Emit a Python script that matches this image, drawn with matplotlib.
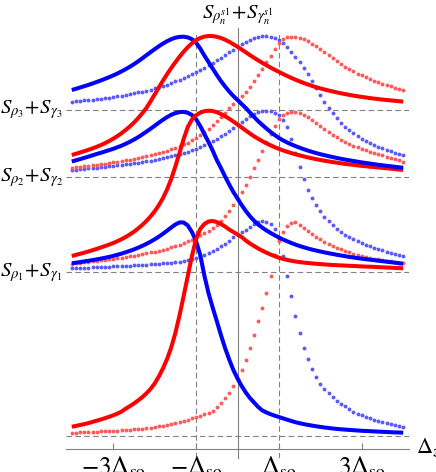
import numpy as np
import matplotlib.pyplot as plt

plt.rcParams['mathtext.fontset'] = 'stix'
plt.rcParams['font.family'] = ['Liberation Serif', 'DejaVu Serif']

# detuning grid, in units of Delta_so
dz = np.linspace(-4.0, 4.0, 81)

# offsets of the stacked spectra (dashed reference lines)
levels = [0.0, 163.7, 258.7, 326.0]
level_labels = [r'$S_{\rho_1}\!+\!S_{\gamma_1}$',
                r'$S_{\rho_2}\!+\!S_{\gamma_2}$',
                r'$S_{\rho_3}\!+\!S_{\gamma_3}$']

# solid blue curves (peak near -1.4); the dotted red ones are their mirror images
blue_1 = [172.7, 173.3, 173.9, 174.6, 175.2, 175.9, 176.6, 177.4, 178.2, 179.1,
          180.1, 181.2, 182.4, 183.7, 185.1, 186.6, 188.3, 190.1, 192.1, 194.3,
          196.7, 199.3, 202.2, 205.3, 208.5, 211.5, 213.6, 213.5, 210.5, 204.0,
          195.0, 181.0, 160.5, 143.0, 128.5, 115.0, 101.0, 88.0, 76.5, 66.0,
          57.5, 50.0, 43.5, 38.0, 33.5, 29.0, 25.5, 23.5, 21.8, 20.3,
          19.0, 17.6, 16.3, 15.0, 13.8, 12.8, 11.9, 11.1, 10.4, 9.7,
          9.1, 8.5, 8.0, 7.5, 7.1, 6.7, 6.4, 6.1, 5.8, 5.5,
          5.2, 5.0, 4.8, 4.6, 4.4, 4.2, 4.0, 3.8, 3.6, 3.5, 3.3]
blue_2 = [274.5, 275.7, 276.9, 278.1, 279.4, 280.7, 282.0, 283.2, 284.5, 285.8,
          287.2, 288.7, 290.3, 292.2, 294.2, 296.4, 298.8, 301.5, 304.3, 307.2,
          310.2, 313.3, 316.2, 318.9, 321.2, 322.9, 323.9, 324.1, 323.2, 321.0,
          316.8, 310.0, 302.0, 294.0, 285.5, 276.0, 268.0, 259.5, 251.5, 244.0,
          237.5, 231.0, 225.0, 219.8, 215.3, 211.5, 208.3, 205.5, 203.0, 200.7,
          198.5, 196.5, 194.7, 193.0, 191.4, 190.0, 188.7, 187.5, 186.4, 185.4,
          184.5, 183.6, 182.8, 182.0, 181.2, 180.5, 179.8, 179.1, 178.5, 177.9,
          177.3, 176.8, 176.3, 175.8, 175.3, 174.8, 174.3, 173.8, 173.3, 172.8, 172.3]
blue_3 = [346.0, 347.2, 348.5, 349.8, 351.1, 352.5, 354.0, 355.5, 357.1, 358.8,
          360.6, 362.5, 364.6, 366.8, 369.2, 371.8, 374.6, 377.6, 380.7, 383.8,
          386.8, 389.7, 392.4, 394.8, 396.8, 398.3, 399.1, 399.3, 398.6, 396.8,
          393.3, 387.5, 380.5, 374.0, 367.5, 361.0, 355.0, 349.5, 344.5, 340.0,
          336.0, 332.0, 328.0, 323.5, 319.0, 314.8, 311.0, 307.4, 304.0, 300.9,
          298.0, 295.6, 293.5, 291.6, 289.9, 288.3, 286.8, 285.4, 284.1, 282.9,
          281.8, 280.8, 279.8, 278.9, 278.0, 277.2, 276.4, 275.7, 275.0, 274.3,
          273.6, 273.0, 272.4, 271.8, 271.2, 270.7, 270.2, 269.7, 269.2, 268.7, 268.2]

# solid red curves (peak near -0.6); the dotted blue ones are their mirror images
red_1 = [9.3, 10.1, 11.0, 11.9, 12.9, 14.1, 15.3, 16.5, 17.8, 19.2,
         20.7, 22.4, 24.4, 27.3, 29.8, 32.5, 35.5, 38.8, 42.6, 47.0,
         52.5, 59.5, 67.5, 77.0, 88.5, 103.0, 120.5, 140.0, 160.0, 180.0,
         197.0, 207.0, 212.0, 214.5, 215.0, 214.0, 212.0, 209.5, 206.5, 204.0,
         201.5, 199.0, 195.5, 192.5, 190.0, 187.5, 185.3, 183.3, 181.5, 179.8,
         178.3, 177.1, 176.1, 175.2, 174.5, 173.9, 173.4, 173.0, 172.6, 172.2,
         171.9, 171.6, 171.3, 171.0, 170.8, 170.6, 170.4, 170.2, 170.0, 169.8,
         169.6, 169.4, 169.3, 169.1, 168.9, 168.7, 168.5, 168.3, 168.1, 167.9, 167.7]
red_2 = [180.0, 181.1, 182.2, 183.3, 184.5, 185.8, 187.1, 188.5, 189.9, 191.4,
         193.0, 194.8, 196.8, 199.0, 201.5, 204.3, 207.5, 211.0, 215.0, 219.5,
         224.7, 230.7, 237.8, 246.5, 257.0, 269.5, 283.0, 297.0, 309.0, 316.5,
         320.8, 323.3, 324.8, 325.3, 325.0, 323.8, 322.0, 319.8, 317.3, 314.5,
         311.5, 308.5, 305.5, 302.5, 299.7, 297.2, 294.8, 292.6, 290.6, 288.8,
         287.1, 285.6, 284.2, 282.9, 281.7, 280.6, 279.6, 278.6, 277.7, 276.8,
         276.0, 275.3, 274.6, 273.9, 273.3, 272.7, 272.1, 271.6, 271.1, 270.6,
         270.1, 269.7, 269.3, 268.9, 268.5, 268.1, 267.7, 267.3, 266.9, 266.5, 266.1]
red_3 = [281.0, 282.2, 283.5, 284.8, 286.2, 287.6, 289.2, 290.9, 292.8, 295.0,
         297.3, 299.9, 302.8, 306.0, 309.5, 313.4, 317.8, 322.6, 328.0, 334.5,
         341.5, 348.5, 355.3, 361.8, 368.0, 373.8, 379.3, 384.3, 388.8, 392.7,
         395.8, 398.0, 399.4, 400.0, 399.9, 399.2, 398.0, 396.3, 394.2, 391.8,
         389.2, 386.5, 383.7, 380.9, 378.2, 375.6, 373.1, 370.7, 368.4, 366.2,
         364.1, 362.0, 360.0, 358.1, 356.3, 354.6, 353.0, 351.5, 350.1, 348.8,
         347.6, 346.5, 345.5, 344.5, 343.6, 342.7, 341.9, 341.1, 340.4, 339.7,
         339.1, 338.5, 337.9, 337.4, 336.9, 336.4, 336.0, 335.6, 335.2, 334.8, 334.4]

xticks = [-3, -1, 1, 3]
xtick_labels = [r'$-3\Delta_{\rm so}$', r'$-\Delta_{\rm so}$',
                r'$\Delta_{\rm so}$', r'$3\Delta_{\rm so}$']

fig = plt.figure(figsize=(4.36, 4.72), dpi=100)
ax = fig.add_axes([66/436, 14/472, 343/436, 430/472])
ax.set_xlim(-4.14, 4.14)
ax.set_ylim(-22, 408)

grey = '#808080'
for lv in levels:
    ax.axhline(lv, color=grey, lw=0.8, ls=(0, (5, 3)), zorder=1)
ax.vlines([-1, 1], -22, 403, color=grey, lw=0.8, linestyles=(0, (5, 3)), zorder=1)

for b, r in [(blue_1, red_1), (blue_2, red_2), (blue_3, red_3)]:
    ax.plot(-dz, r, 'o', color='#5a5aff', ms=2.8, mew=0, zorder=2)
    ax.plot(-dz, b, 'o', color='#ff5a5a', ms=2.8, mew=0, zorder=2)
    ax.plot(dz, b, color='#0000ff', lw=2.9, zorder=3, solid_capstyle='butt')
    ax.plot(dz, r, color='#ff0000', lw=2.9, zorder=3, solid_capstyle='butt')

# axes drawn through the origin, Mathematica style
for s in ['top', 'right']:
    ax.spines[s].set_visible(False)
ax.spines['bottom'].set_position(('data', -13))
ax.spines['left'].set_position(('data', 0))
ax.spines['bottom'].set_color(grey)
ax.spines['left'].set_color(grey)
ax.spines['bottom'].set_linewidth(0.8)
ax.spines['left'].set_linewidth(0.8)
ax.set_yticks([])
ax.set_xticks(xticks)
ax.set_xticklabels(xtick_labels, fontsize=18)
ax.tick_params(axis='x', direction='in', length=4, width=0.8, color=grey, pad=4)

for lv, lab in zip(levels[1:], level_labels):
    ax.text(-4.22, lv, lab, ha='right', va='center', fontsize=15, clip_on=False)

ax.text(0, 421, r'$S_{\rho_n^{s1}}\!+\!S_{\gamma_n^{s1}}$', ha='center', va='center',
        fontsize=15, clip_on=False)
ax.text(4.32, -12, r'$\Delta_z$', ha='left', va='center', fontsize=16, clip_on=False)

fig.savefig('out.png', dpi=100)
